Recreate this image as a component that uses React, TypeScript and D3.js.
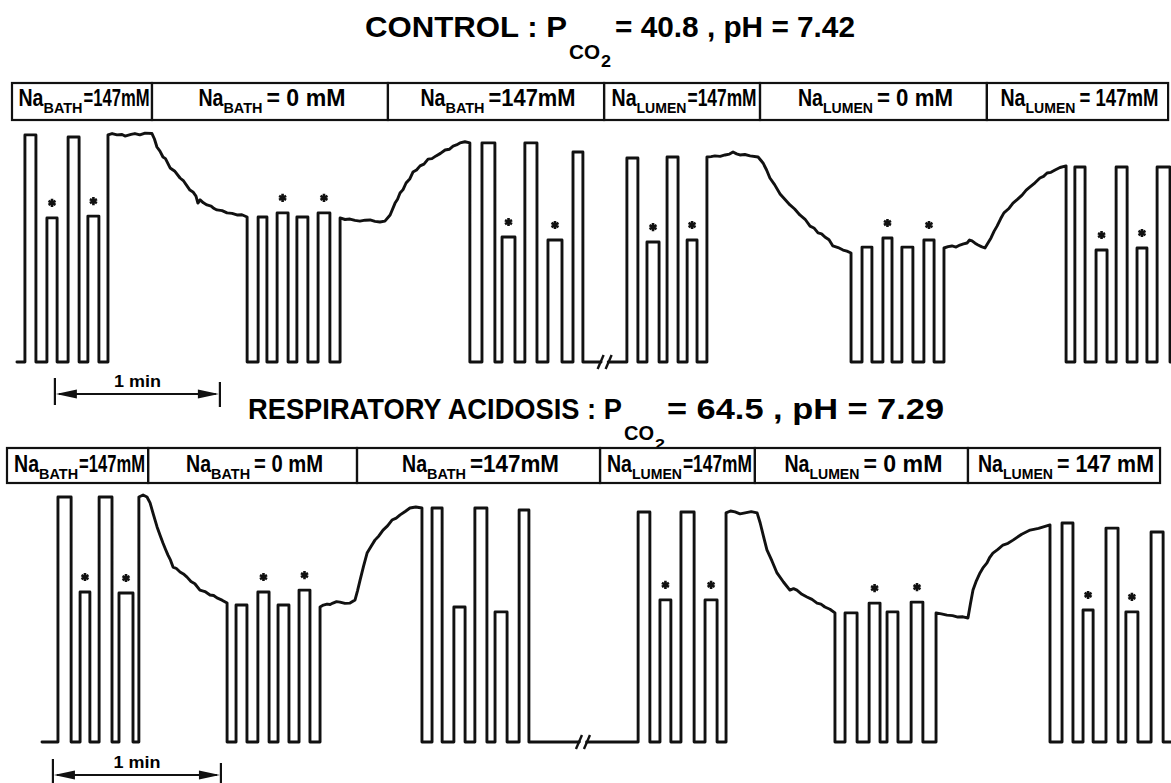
import { useMemo } from 'react'
import * as d3 from 'd3'

// one pulse = [time up (s), time down (s), signal level, asterisk 1/0]
type Pulse = [number, number, number, number]
type Pt = [number, number]

const W = 1171
const H = 783
const FONT = "'Liberation Sans', Arial, sans-serif"

// ---------- CONTROL : PCO2 = 40.8, pH = 7.42 ----------
const controlStart = 1.8
const controlEnd = 421.5
const controlBreak = 215.5
const controlChanges = [0, 50.9, 136.7, 215.3, 272, 354.5, 420.4]
const controlValues = ['=147mM', '= 0 mM', '=147mM', '=147mM', '= 0 mM', '= 147mM']

const controlPulses: Pulse[] = [
  [4.7, 8.7, 99.6, 0],
  [12.7, 16.4, 63.2, 1],
  [20.4, 24.4, 98.7, 0],
  [27.6, 31.6, 64.0, 1],
  [89.5, 92.7, 63.6, 0],
  [96.4, 100.4, 65.4, 1],
  [103.6, 107.6, 63.6, 0],
  [111.3, 115.6, 65.4, 1],
  [170.9, 175.6, 96.1, 0],
  [178.2, 182.9, 54.8, 1],
  [186.5, 190.9, 96.1, 0],
  [194.9, 200.0, 53.5, 1],
  [204.0, 207.6, 92.1, 0],
  [223.6, 227.6, 89.5, 0],
  [230.9, 235.3, 52.6, 1],
  [238.2, 242.2, 89.9, 0],
  [245.5, 249.1, 53.5, 1],
  [309.1, 312.7, 50.4, 0],
  [316.7, 320.0, 54.4, 1],
  [323.6, 327.6, 50.4, 0],
  [331.6, 335.3, 53.5, 1],
  [386.5, 390.2, 85.5, 0],
  [394.2, 398.2, 49.1, 1],
  [401.5, 405.5, 85.5, 0],
  [409.1, 412.7, 50.0, 1],
  [416.4, 421.1, 85.5, 0],
]

const controlDrifts: Pt[][] = [
  [
    [34.9, 99.6], [36.4, 100.2], [38.2, 99.6], [40, 99.8], [41.1, 99.1], [43.3, 99.8],
    [44.7, 100.2], [46.5, 99.6], [48.4, 100.4], [50.9, 100.2], [51.8, 97.8], [52.7, 94.3],
    [53.8, 92.5], [54.9, 89.9], [55.8, 89.2], [57.5, 85.1], [59.1, 83.8], [61.1, 80.7],
    [62.4, 79.4], [64.7, 75.4], [65.8, 74.6], [66.9, 72.8], [67.6, 69.7], [68.4, 71.1],
    [69.6, 69.8], [70.9, 68.9], [72.4, 68.4], [73.5, 67.3], [74.5, 66.7], [76.4, 66.4],
    [78.2, 65.4], [80, 65.2], [81.8, 64.5], [83.6, 64.6], [85.5, 63.6],
  ],
  [
    [119.3, 63.2], [121.1, 62.5], [122.9, 62.7], [124.7, 62.1], [126.5, 61.8], [128.4, 62.2],
    [130.2, 62.3], [132, 61.7], [133.8, 61.4], [135.6, 61.8], [137.5, 64.5], [139.3, 69.7],
    [140.2, 71.4], [141.1, 74.1], [142.2, 75.6], [143.3, 78.5], [144.7, 80.4], [145.8, 83.3],
    [147.1, 84.2], [148.4, 86], [149.8, 86.8], [151.3, 89], [152.7, 89.2], [154.2, 90.4],
    [155.8, 91.5], [157.5, 93], [159, 93.3], [160.4, 94.7], [161.6, 95.2], [162.9, 96.1],
    [164.7, 96.6], [166.5, 96.1],
  ],
  [
    [252.7, 89.9], [254.2, 90.1], [255.6, 90.4], [257.5, 90.2], [259.3, 90.8], [260.9, 91.2],
    [262.2, 92.1], [263.5, 91.3], [264.7, 90.8], [266.5, 91.0], [268.4, 90.4], [271.3, 89.9],
    [273.1, 87.3], [274.4, 84.2], [275.6, 80.7], [277.3, 77.8], [279.3, 73.7], [281.1, 71.3],
    [282.9, 68.9], [284.6, 67.1], [286.5, 64.5], [288.4, 62.6], [290.2, 59.6], [291.6, 58.8],
    [293.1, 56.6], [294.4, 56.2], [295.6, 54.8], [297.1, 53.6], [298.5, 50.9], [300.4, 50.2],
    [302.2, 49.1], [303.6, 48.6], [305.1, 47.8],
  ],
  [
    [338.9, 50], [340.4, 50.6], [341.8, 50.9], [343.3, 50.4], [344.7, 51.3], [346, 51.8],
    [347.3, 52.2], [348.2, 53.5], [349.1, 53.1], [350.2, 52.1], [351.3, 51.3], [352.5, 50.6],
    [353.8, 50], [355, 52.4], [356, 54.4], [357.1, 57.3], [358.2, 59.6], [359.5, 62.8],
    [360.7, 65.4], [362.4, 67.2], [364, 69.7], [365.6, 71.3], [367.3, 73.2], [368.8, 75.4],
    [370.2, 76.8], [372, 78.6], [373.8, 80.7], [375.1, 81.4], [376.4, 82.9], [377.8, 83.2],
    [379.3, 84.2], [381.1, 85.3], [383.3, 86],
  ],
]

// ---------- RESPIRATORY ACIDOSIS : PCO2 = 64.5, pH = 7.29 ----------
const acidStart = 12.5
const acidEnd = 415.7
const acidBreak = 205.7
const acidChanges = [0, 50.4, 125, 211.8, 267.1, 343.2, 411.8]
const acidValues = ['=147mM', '= 0 mM', '=147mM', '=147mM', '= 0 mM', '= 147 mM']

const acidPulses: Pulse[] = [
  [18.2, 22.9, 100, 0],
  [26.1, 29.6, 61.2, 1],
  [32.9, 37.5, 100, 0],
  [40.0, 45.0, 60.8, 1],
  [81.8, 85.7, 55.9, 0],
  [89.6, 93.6, 61.2, 1],
  [96.8, 100.7, 55.9, 0],
  [104.3, 108.2, 62.0, 1],
  [151.8, 155.4, 95.5, 0],
  [159.6, 163.6, 55.1, 0],
  [167.1, 171.4, 95.5, 0],
  [174.3, 178.6, 53.1, 0],
  [182.9, 186.4, 94.7, 0],
  [225.4, 229.6, 93.9, 0],
  [233.2, 237.1, 58.0, 1],
  [240.7, 245.4, 93.9, 0],
  [249.3, 253.6, 58.0, 1],
  [299.3, 303.6, 52.7, 0],
  [307.9, 311.8, 56.7, 1],
  [314.3, 318.2, 53.1, 0],
  [322.9, 327.1, 57.1, 1],
  [376.8, 380.7, 89.4, 0],
  [384.3, 387.9, 53.9, 1],
  [392.5, 396.8, 87.3, 0],
  [399.6, 403.9, 53.1, 1],
  [408.6, 412.9, 85.7, 0],
]

const acidDrifts: Pt[][] = [
  [
    [47.1, 100], [48.6, 100.8], [50, 100], [51.1, 97.6], [52.3, 92.8], [53.6, 87.8],
    [54.6, 84.6], [55.7, 81.2], [56.6, 78.7], [57.5, 76.3], [58.4, 74.2], [59.3, 71.4],
    [60.5, 70.8], [61.8, 69.4], [63, 68.6], [64.3, 67.3], [65.7, 65.5], [67.1, 64.6],
    [68.9, 62], [70.7, 61.4], [72.5, 60], [73.8, 59.8], [75, 58.8], [76.8, 57.9],
    [78.6, 56.7],
  ],
  [
    [111.8, 55.1], [113, 55.9], [114.3, 56.3], [115.4, 56.1], [116.4, 56.7], [117.7, 57.3],
    [118.9, 57.1], [120.7, 56.6], [122.5, 56.7], [124.3, 58], [125.2, 61.8], [126.1, 66.1],
    [127.3, 71.6], [128.6, 77.1], [130, 79.8], [131.4, 82.4], [132.8, 84.1], [134.3, 86.5],
    [135.9, 88.2], [137.5, 90.6], [139, 91.4], [140.4, 92.7], [142.2, 94.1], [143.9, 95.5],
    [146, 95.9], [148.2, 95.5],
  ],
  [
    [256.8, 93.5], [258.4, 94.3], [260, 93.9], [261.8, 93.1], [263.6, 93.5], [265.8, 94],
    [267.9, 93.5], [269, 89.4], [270.2, 83.8], [271.4, 78.4], [273.2, 73.9], [275, 69],
    [277.3, 65.3], [279.6, 62], [280.9, 62.6], [282.1, 62], [283.9, 60.3], [285.7, 59.2],
    [287.5, 58.2], [289.3, 56.7], [290.7, 56.3], [292.1, 55.1], [293.9, 54.2], [295.7, 52.7],
  ],
  [
    [331.8, 52.7], [333.7, 52.3], [335.7, 51.8], [337.7, 51.6], [339.6, 51], [341.4, 51.1],
    [343.2, 50.6], [344.1, 56.5], [345, 62], [346.2, 65.8], [347.5, 69], [348.7, 71.3],
    [350, 73.1], [351, 75.4], [352.1, 77.1], [353.9, 78.6], [355.7, 80.4], [357.5, 81.1],
    [359.3, 82.4], [362.4, 84.8], [365.4, 86.5], [368.4, 87.2], [372.5, 88.6],
  ],
]

const ionLabels = ['BATH', 'BATH', 'BATH', 'LUMEN', 'LUMEN', 'LUMEN']

function buildTrace(start: number, end: number, pulses: Pulse[], drifts: Pt[][], brk: number) {
  const items = [
    ...pulses.map(([a, b, v]) => ({ t: a, pts: [[a, 0], [a, v], [b, v], [b, 0]] as Pt[] })),
    ...drifts.map((d) => ({
      t: d[0][0],
      pts: [[d[0][0], 0], ...d, [d[d.length - 1][0], 0]] as Pt[],
    })),
  ].sort((p, q) => p.t - q.t)
  const pts: Pt[] = [[start, 0]]
  items.forEach((it) => pts.push(...it.pts))
  pts.push([end, 0])
  const out: Pt[] = []
  pts.forEach((p, i) => {
    out.push(p)
    const n = pts[i + 1]
    if (n && p[0] < brk && n[0] > brk && p[1] === 0 && n[1] === 0) {
      out.push([brk - 1.3, 0], [NaN, NaN], [brk + 1.3, 0])
    }
  })
  return out
}

type TitlePiece = { text: string; x: number; w: number; y: number; size: number }

type PanelProps = {
  start: number
  end: number
  pulses: Pulse[]
  drifts: Pt[][]
  brk: number
  changes: number[]
  values: string[]
  labelWidths: number[]
  xDomain: [number, number]
  xRange: [number, number]
  yRange: [number, number]
  boxTop: number
  boxBottom: number
  labelBase: number
  barStart: number
  barY: number
  title: TitlePiece[]
}

function Panel(p: PanelProps) {
  const x = d3.scaleLinear().domain(p.xDomain).range(p.xRange)
  const y = d3.scaleLinear().domain([0, 100]).range(p.yRange)

  const path = useMemo(() => {
    const pts = buildTrace(p.start, p.end, p.pulses, p.drifts, p.brk)
    return d3
      .line<Pt>()
      .defined((d) => !isNaN(d[1]))
      .x((d) => x(d[0]))
      .y((d) => y(d[1]))(pts) as string
  }, [p])

  const star = d3.symbol(d3.symbolAsterisk, 46)()
  const bx = x(p.brk)
  const by = y(0)
  const b0 = x(p.barStart)
  const b1 = x(p.barStart + 60)

  return (
    <g>
      {p.title.map((t, i) => (
        <text
          key={i}
          x={t.x}
          y={t.y}
          fontSize={t.size}
          fontWeight="bold"
          textLength={t.w}
          lengthAdjust="spacingAndGlyphs"
        >
          {t.text}
        </text>
      ))}

      {p.changes.slice(0, -1).map((c, i) => {
        const x0 = x(c)
        const x1 = x(p.changes[i + 1])
        const total = p.labelWidths[i]
        const subW = ionLabels[i] === 'LUMEN' ? 50 : 39
        const left = (x0 + x1) / 2 + 2 - total / 2
        const gap = p.values[i].startsWith('= ') || i === 2 ? 4 : 1
        return (
          <g key={i}>
            <rect
              x={x0}
              y={p.boxTop}
              width={x1 - x0}
              height={p.boxBottom - p.boxTop}
              fill="none"
              stroke="#111"
              strokeWidth={2.2}
            />
            <text x={left} y={p.labelBase} fontSize={23} fontWeight="bold" textLength={25} lengthAdjust="spacingAndGlyphs">
              Na
            </text>
            <text
              x={left + 25}
              y={p.labelBase + 7}
              fontSize={14}
              fontWeight="bold"
              textLength={subW}
              lengthAdjust="spacingAndGlyphs"
            >
              {ionLabels[i]}
            </text>
            <text
              x={left + 25 + subW + gap}
              y={p.labelBase}
              fontSize={23}
              fontWeight="bold"
              textLength={total - 25 - subW - gap}
              lengthAdjust="spacingAndGlyphs"
            >
              {p.values[i]}
            </text>
          </g>
        )
      })}

      <path d={path} fill="none" stroke="#111" strokeWidth={2.9} strokeLinejoin="round" strokeLinecap="round" />

      {p.pulses
        .filter((q) => q[3] === 1)
        .map((q, i) => (
          <path
            key={i}
            d={star}
            transform={`translate(${x((q[0] + q[1]) / 2)},${y(q[2]) - 15})`}
            fill="none"
            stroke="#111"
            strokeWidth={2.6}
          />
        ))}

      <g stroke="#111" strokeWidth={2.4}>
        <line x1={bx - 7} y1={by + 7} x2={bx - 1} y2={by - 7} />
        <line x1={bx + 1} y1={by + 7} x2={bx + 7} y2={by - 7} />
      </g>

      <g>
        <line x1={b0} x2={b0} y1={p.barY - 16} y2={p.barY + 11} stroke="#111" strokeWidth={2.2} />
        <line x1={b1} x2={b1} y1={p.barY - 12} y2={p.barY + 13} stroke="#111" strokeWidth={2.2} />
        <line x1={b0 + 4} x2={b1 - 4} y1={p.barY} y2={p.barY} stroke="#111" strokeWidth={2} />
        <path d={`M${b0 + 1},${p.barY} L${b0 + 22},${p.barY - 4.5} L${b0 + 22},${p.barY + 4.5} Z`} fill="#111" />
        <path d={`M${b1 - 1},${p.barY} L${b1 - 22},${p.barY - 4.5} L${b1 - 22},${p.barY + 4.5} Z`} fill="#111" />
        <text
          x={(b0 + b1) / 2}
          y={p.barY - 7}
          textAnchor="middle"
          fontSize={17}
          fontWeight="bold"
          textLength={47}
          lengthAdjust="spacingAndGlyphs"
        >
          1 min
        </text>
      </g>
    </g>
  )
}

export default function App() {
  return (
    <svg
      width={W}
      height={H}
      viewBox={`0 0 ${W} ${H}`}
      style={{ position: 'absolute', left: 0, top: 0, background: '#fff', fontFamily: FONT }}
    >
      <rect width={W} height={H} fill="#fff" />
      <Panel
        start={controlStart}
        end={controlEnd}
        pulses={controlPulses}
        drifts={controlDrifts}
        brk={controlBreak}
        changes={controlChanges}
        values={controlValues}
        labelWidths={[131, 147, 155, 145, 155, 158]}
        xDomain={[0, 420]}
        xRange={[12, 1167]}
        yRange={[362, 134]}
        boxTop={83}
        boxBottom={120}
        labelBase={106}
        barStart={15.6}
        barY={394}
        title={[
          { text: 'CONTROL : P', x: 365, w: 202, y: 37, size: 30 },
          { text: 'CO', x: 569, w: 31, y: 59, size: 20 },
          { text: '2', x: 601, w: 10, y: 67, size: 16 },
          { text: '= 40.8 , pH = 7.42', x: 615, w: 240, y: 37, size: 30 },
        ]}
      />
      <Panel
        start={acidStart}
        end={acidEnd}
        pulses={acidPulses}
        drifts={acidDrifts}
        brk={acidBreak}
        changes={acidChanges}
        values={acidValues}
        labelWidths={[131, 137, 157, 145, 158, 176]}
        xDomain={[0, 412]}
        xRange={[7, 1160.6]}
        yRange={[742, 497]}
        boxTop={448}
        boxBottom={483}
        labelBase={472}
        barStart={16.4}
        barY={775}
        title={[
          { text: 'RESPIRATORY ACIDOSIS :  P', x: 248, w: 374, y: 419, size: 29 },
          { text: 'CO', x: 624, w: 30, y: 440, size: 20 },
          { text: '2', x: 655, w: 10, y: 449, size: 15 },
          { text: '= 64.5 , pH = 7.29', x: 667, w: 277, y: 419, size: 29 },
        ]}
      />
    </svg>
  )
}
